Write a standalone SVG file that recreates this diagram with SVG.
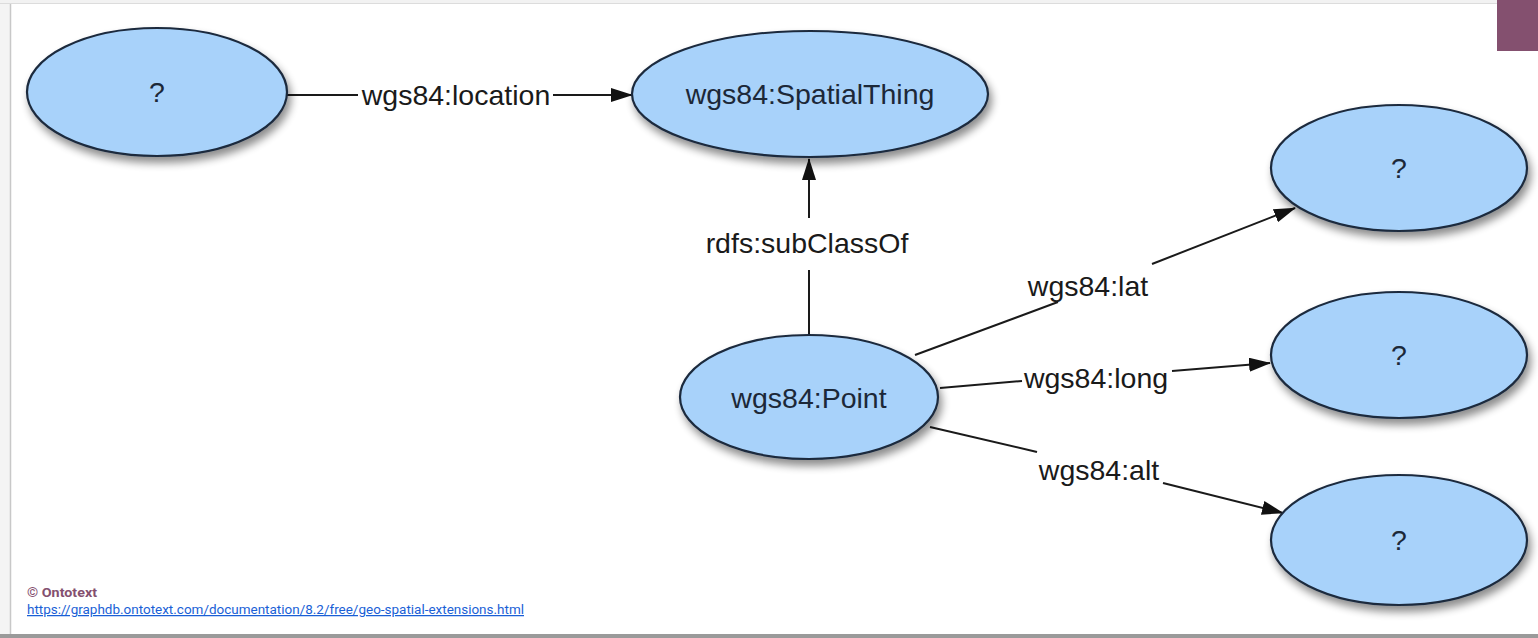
<svg xmlns="http://www.w3.org/2000/svg" width="1538" height="638" viewBox="0 0 1538 638">
<style>
.node ellipse{fill:#a8d2fa;stroke:#1b2a3e;stroke-width:2.2;filter:url(#sh)}
.node text{font-family:"Liberation Sans",Arial,sans-serif;font-size:28.5px;fill:#1c2838;text-anchor:middle;dominant-baseline:central}
.edge line{stroke:#1a1a1a;stroke-width:2}
.lbl{font-family:"Liberation Sans",Arial,sans-serif;font-size:28.5px;fill:#1a1a1a;text-anchor:middle;dominant-baseline:central}
</style>
<defs>
<filter id="sh" x="-20%" y="-20%" width="150%" height="160%">
<feGaussianBlur in="SourceAlpha" stdDeviation="4"/>
<feOffset dx="3" dy="6" result="b"/>
<feComponentTransfer><feFuncA type="linear" slope="0.45"/></feComponentTransfer>
<feMerge><feMergeNode/><feMergeNode in="SourceGraphic"/></feMerge>
</filter>
<marker id="arr" markerWidth="22" markerHeight="14" refX="21" refY="7" orient="auto" markerUnits="userSpaceOnUse">
<path d="M0,0 L22,7 L0,14 Z" fill="#111"/>
</marker>
</defs>
<rect width="1538" height="638" fill="#fff"/>
<rect x="0" y="0" width="1538" height="4" fill="#f2f2f2"/>
<line x1="0" y1="3.5" x2="1538" y2="3.5" stroke="#dcdcdc" stroke-width="1"/>
<rect x="0" y="4" width="10" height="634" fill="#f4f4f4"/>
<line x1="10.5" y1="4" x2="10.5" y2="634" stroke="#c8c8c8" stroke-width="1.5"/>
<rect x="0" y="634" width="1538" height="4" fill="#9a9a9a"/>
<rect x="1497" y="0" width="41" height="51" fill="#84506f"/>

<g id="connectors" class="edge">
<line x1="287" y1="95" x2="358" y2="95"/>
<line x1="553" y1="95" x2="632" y2="95" marker-end="url(#arr)"/>
<line x1="809" y1="335" x2="809" y2="270"/>
<line x1="809" y1="218" x2="809" y2="159" marker-end="url(#arr)"/>
<line x1="915" y1="355" x2="1058" y2="302"/>
<line x1="1152" y1="264" x2="1295" y2="208" marker-end="url(#arr)"/>
<line x1="940" y1="388" x2="1022" y2="381"/>
<line x1="1172" y1="371" x2="1270" y2="363" marker-end="url(#arr)"/>
<line x1="930" y1="427" x2="1037" y2="452"/>
<line x1="1163" y1="483" x2="1283" y2="513" marker-end="url(#arr)"/>
<text class="lbl" x="456" y="95">wgs84:location</text>
<text class="lbl" x="807" y="243">rdfs:subClassOf</text>
<text class="lbl" x="1088" y="286">wgs84:lat</text>
<text class="lbl" x="1096" y="378">wgs84:long</text>
<text class="lbl" x="1099" y="470">wgs84:alt</text>
</g>

<g id="n1" class="node"><ellipse cx="157" cy="92" rx="130" ry="64"/><text x="157" y="92">?</text></g>
<g id="n2" class="node"><ellipse cx="810" cy="94" rx="178" ry="63"/><text x="810" y="94">wgs84:SpatialThing</text></g>
<g id="n3" class="node"><ellipse cx="809" cy="397" rx="129" ry="62"/><text x="809" y="398">wgs84:Point</text></g>
<g id="n4" class="node"><ellipse cx="1399" cy="168" rx="128" ry="63"/><text x="1399" y="168">?</text></g>
<g id="n5" class="node"><ellipse cx="1399" cy="355" rx="128" ry="63"/><text x="1399" y="355">?</text></g>
<g id="n6" class="node"><ellipse cx="1399" cy="540" rx="128" ry="65"/><text x="1399" y="540">?</text></g>

<text x="27" y="597" font-family="Roboto,'Liberation Sans',sans-serif" font-size="12.5" font-weight="bold" fill="#84506f" textLength="70" lengthAdjust="spacingAndGlyphs">© Ontotext</text>
<text x="27" y="614" font-family="Roboto,'Liberation Sans',sans-serif" font-size="12.5" fill="#1a5fd6" text-decoration="underline" textLength="497" lengthAdjust="spacingAndGlyphs">https://graphdb.ontotext.com/documentation/8.2/free/geo-spatial-extensions.html</text>
</svg>
